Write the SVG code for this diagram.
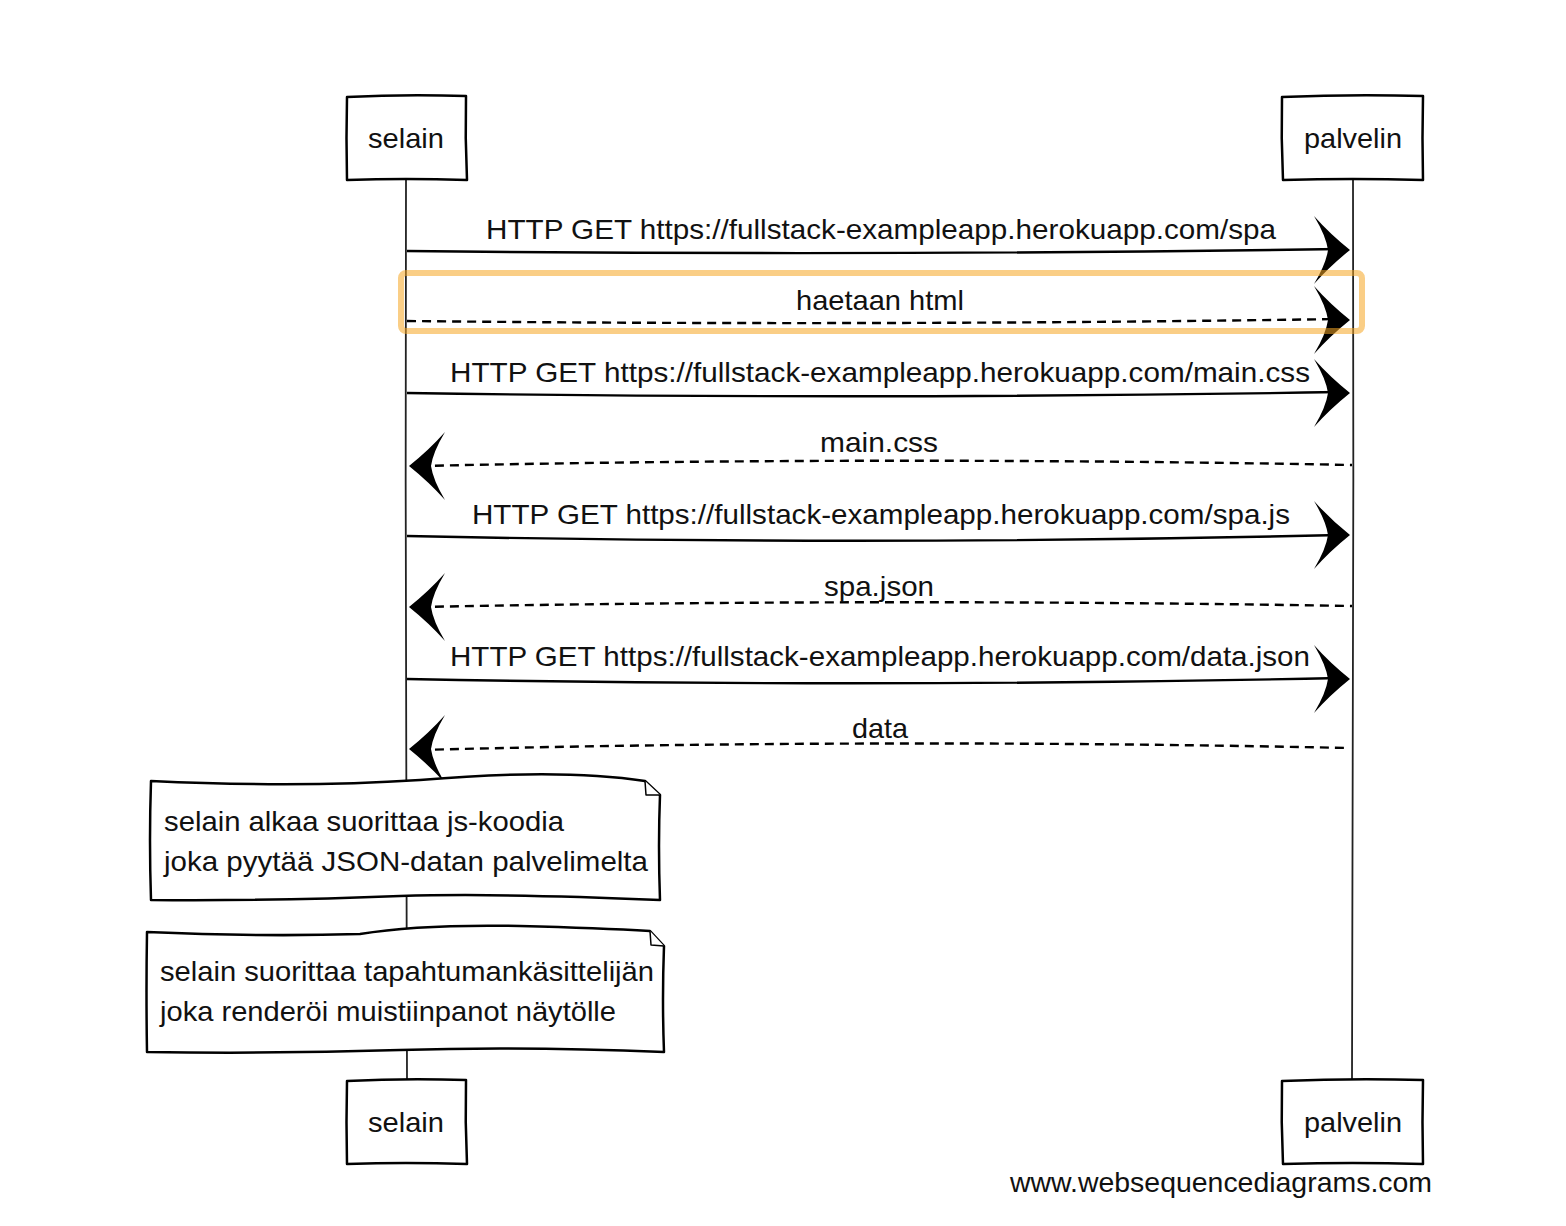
<svg xmlns="http://www.w3.org/2000/svg" width="1566" height="1226" viewBox="0 0 1566 1226">
<style>
.box{fill:#fff;stroke:#000;stroke-width:2.5;stroke-linejoin:round}
.life{fill:none;stroke:#222;stroke-width:1.8}
.msg{fill:none;stroke:#000;stroke-width:2.4}
.dash{stroke-dasharray:9 6}
.head{fill:#000;stroke:none}
text{font-family:"Liberation Sans",Arial,sans-serif;fill:#111}
.lbl{font-size:28px;text-anchor:middle}
.nt{font-size:28px}
.hl{fill:none;stroke:#f5a623;stroke-opacity:0.55;stroke-width:6}
</style>
<defs>
<path id="hr" class="head" d="M0,0 Q-20,-16 -36,-34 Q-24,-14 -22,0 Q-24,14 -36,34 Q-20,16 0,0 Z"/>
<path id="hl" class="head" d="M0,0 Q20,-16 36,-34 Q24,-14 22,0 Q24,14 36,34 Q20,16 0,0 Z"/>
</defs>
<g id="lifelines">
<path class="life" d="M406,180 Q405,630 407,1080"/>
<path class="life" d="M1353,180 Q1354,630 1352,1080"/>
</g>
<g id="selain-top"><path class="box" d="M347,97 Q405,94 466,96 Q465,138 467,180 Q405,178 347,180 Q346,138 347,97 Z"/><text class="lbl" x="406" y="148" textLength="76" lengthAdjust="spacingAndGlyphs">selain</text></g>
<g id="palvelin-top"><path class="box" d="M1282,97 Q1352,94 1423,96 Q1422,138 1423,180 Q1352,178 1283,180 Q1281,138 1282,97 Z"/><text class="lbl" x="1353" y="148" textLength="98" lengthAdjust="spacingAndGlyphs">palvelin</text></g>
<g id="selain-bottom"><path class="box" d="M347,1081 Q405,1078 466,1080 Q465,1122 467,1164 Q405,1162 347,1164 Q346,1122 347,1081 Z"/><text class="lbl" x="406" y="1132" textLength="76" lengthAdjust="spacingAndGlyphs">selain</text></g>
<g id="palvelin-bottom"><path class="box" d="M1282,1081 Q1352,1078 1423,1080 Q1422,1122 1423,1164 Q1352,1162 1283,1164 Q1281,1122 1282,1081 Z"/><text class="lbl" x="1353" y="1132" textLength="98" lengthAdjust="spacingAndGlyphs">palvelin</text></g>
<g id="connectors">
<path class="msg" d="M407,251 Q880,256 1340,249"/><use href="#hr" x="1350" y="250"/>
<text class="lbl" x="881" y="239" textLength="790" lengthAdjust="spacingAndGlyphs">HTTP GET https://fullstack-exampleapp.herokuapp.com/spa</text>
<path class="msg dash" d="M407,321 Q880,326 1340,319"/><use href="#hr" x="1350" y="320"/>
<text class="lbl" x="880" y="310" textLength="168" lengthAdjust="spacingAndGlyphs">haetaan html</text>
<path class="msg" d="M407,393 Q880,400 1340,392"/><use href="#hr" x="1350" y="393"/>
<text class="lbl" x="880" y="382" textLength="860" lengthAdjust="spacingAndGlyphs">HTTP GET https://fullstack-exampleapp.herokuapp.com/main.css</text>
<path class="msg dash" d="M420,466 Q880,456 1352,465"/><use href="#hl" x="409" y="466"/>
<text class="lbl" x="879" y="452" textLength="118" lengthAdjust="spacingAndGlyphs">main.css</text>
<path class="msg" d="M407,536 Q880,546 1340,535"/><use href="#hr" x="1350" y="535"/>
<text class="lbl" x="881" y="524" textLength="818" lengthAdjust="spacingAndGlyphs">HTTP GET https://fullstack-exampleapp.herokuapp.com/spa.js</text>
<path class="msg dash" d="M420,607 Q880,598 1352,606"/><use href="#hl" x="409" y="607"/>
<text class="lbl" x="879" y="596" textLength="110" lengthAdjust="spacingAndGlyphs">spa.json</text>
<path class="msg" d="M407,679 Q880,688 1340,678"/><use href="#hr" x="1350" y="679"/>
<text class="lbl" x="880" y="666" textLength="860" lengthAdjust="spacingAndGlyphs">HTTP GET https://fullstack-exampleapp.herokuapp.com/data.json</text>
<path class="msg dash" d="M420,750 Q880,738 1348,748"/><use href="#hl" x="409" y="749"/>
<text class="lbl" x="880" y="738" textLength="56" lengthAdjust="spacingAndGlyphs">data</text>
</g>
<g id="note1">
<path class="box" d="M151,781 Q300,788 420,780 Q560,768 645,781 L660,795 Q658,845 660,900 Q500,893 400,896 Q280,901 151,900 Q149,840 151,781 Z"/>
<path class="box" d="M645,781 L646,795 L660,795" style="stroke-width:1.5"/>
<text class="nt" x="164" y="831" textLength="400" lengthAdjust="spacingAndGlyphs">selain alkaa suorittaa js-koodia</text>
<text class="nt" x="164" y="871" textLength="484" lengthAdjust="spacingAndGlyphs">joka pyytää JSON-datan palvelimelta</text>
</g>
<g id="note2">
<path class="box" d="M147,932 Q260,937 360,934 Q420,924 520,926 Q600,928 650,931 L664,946 Q662,1000 664,1052 Q520,1046 400,1050 Q270,1054 147,1052 Q146,992 147,932 Z"/>
<path class="box" d="M650,931 L651,945 L664,946" style="stroke-width:1.5"/>
<text class="nt" x="160" y="981" textLength="494" lengthAdjust="spacingAndGlyphs">selain suorittaa tapahtumankäsittelijän</text>
<text class="nt" x="160" y="1021" textLength="456" lengthAdjust="spacingAndGlyphs">joka renderöi muistiinpanot näytölle</text>
</g>
<rect class="hl" x="401" y="273" width="961" height="58" rx="5"/>
<text x="1010" y="1192" style="font-size:28px" textLength="422" lengthAdjust="spacingAndGlyphs">www.websequencediagrams.com</text>
</svg>
